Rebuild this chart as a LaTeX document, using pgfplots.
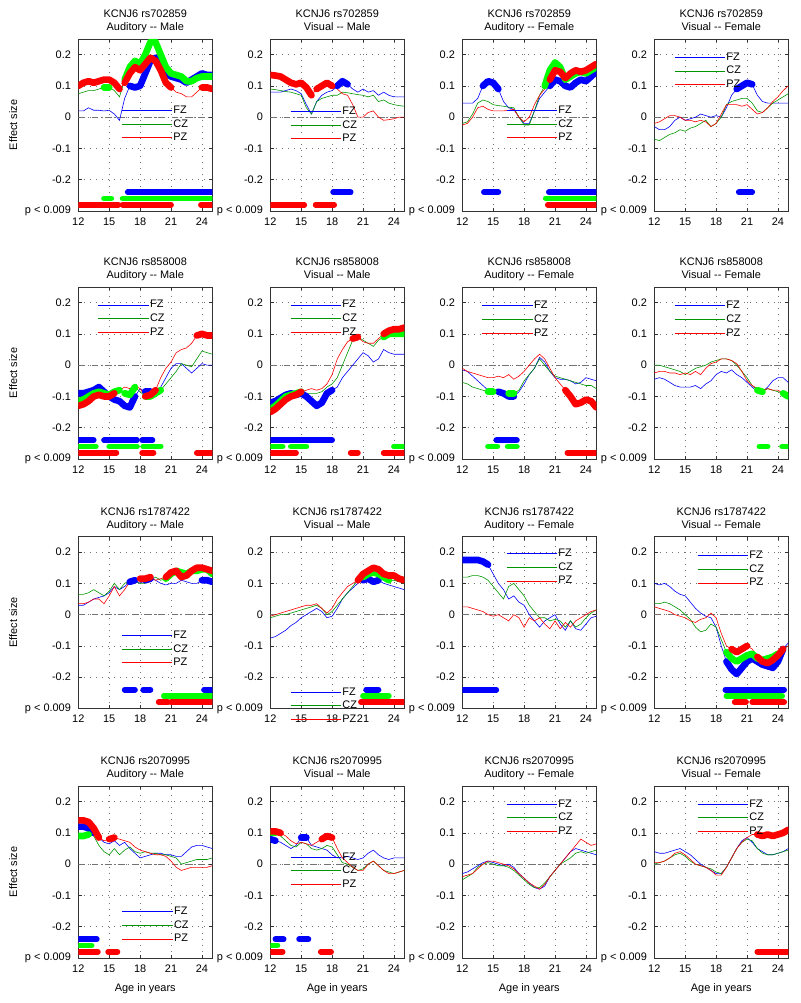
\documentclass[border=0pt]{standalone}
\usepackage{fontspec}
\setmainfont{Liberation Sans}
\usepackage{pgfplots}
\pgfplotsset{compat=1.18}
\usepackage{pgfplotstable}

\newcommand{\fs}{\fontsize{8.2}{9.6}\selectfont}
\definecolor{czl}{RGB}{0,150,0}
\definecolor{sgreen}{RGB}{0,255,0}

% legend sample: a plain long line in the colour of the series
\pgfplotsset{legend image code/.code={\draw[#1] (0pt,0pt) -- (38pt,0pt);}}

\pgfplotsset{
  panel/.style={
    scale only axis, width=100.5pt, height=129pt, anchor=south west,
    xmin=12, xmax=25, ymin=-0.3, ymax=0.25,
    xtick={12,15,18,21,24}, xticklabels={12,15,18,21,24},
    ytick={-0.3,-0.2,-0.1,0,0.1,0.2},
    yticklabels={p < 0.009,-0.2,-0.1,0,0.1,0.2},
    tick align=inside, major tick length=2.5pt,
    axis line style={black!80, line width=0.6pt},
    tick style={black!80, line width=0.5pt},
    grid=major, grid style={black!55, line width=0.5pt, dash pattern=on 0.5pt off 4pt},
    every tick label/.append style={font=\fs, text=black},
    xticklabel style={yshift=-1.5pt}, yticklabel style={xshift=-2pt},
    every axis title/.style={font=\fs, align=center, inner sep=0pt, at={(0.5,1)}, anchor=north, yshift=21.8pt},
    every axis y label/.style={at={(axis description cs:-0.485,0.5)}, rotate=90, anchor=center, font=\fs},
    every axis x label/.style={at={(axis description cs:0.5,-0.176)}, anchor=center, font=\fs},
    legend entries={FZ,CZ,PZ},
    legend style={draw=none, fill=none, font=\fs, anchor=north west, inner sep=0pt,
      row sep=1.6pt, nodes={inner sep=0.5pt, text height=6pt, text depth=1.6pt}},
    legend cell align=left,
  },
  zline/.style={black!55, line width=0.5pt, dash pattern=on 5pt off 2pt on 1pt off 2pt},
  fline/.style={blue, line width=0.45pt},
  cline/.style={czl, line width=0.45pt},
  pline/.style={red, line width=0.45pt},
  fsig/.style={blue, line width=5pt, line cap=round, line join=round},
  csig/.style={sgreen, line width=5pt, line cap=round, line join=round},
  psig/.style={red, line width=5pt, line cap=round, line join=round},
  fbar/.style={blue, line width=4.3pt, line cap=round},
  cbar/.style={sgreen, line width=4.3pt, line cap=round},
  pbar/.style={red, line width=4.3pt, line cap=round},
}

\newcommand{\curves}[1]{%
  \addlegendimage{draw=blue, line width=0.6pt}
  \addlegendimage{draw=czl, line width=0.6pt}
  \addlegendimage{draw=red, line width=0.6pt}
  \addplot[zline, forget plot] coordinates {(12,0) (25,0)};
  \addplot[fline, forget plot] table[y=f] {#1};
  \addplot[cline, forget plot] table[y=c] {#1};
  \addplot[pline, forget plot] table[y=p] {#1};
}
\newcommand{\sig}[4]{\addplot[#1sig, forget plot, restrict x to domain=#2:#3] table[y=#1] {#4};}
\newcommand{\fbar}[2]{\addplot[fbar, forget plot] coordinates {(#1,-0.24) (#2,-0.24)};}
\newcommand{\cbar}[2]{\addplot[cbar, forget plot] coordinates {(#1,-0.26) (#2,-0.26)};}
\newcommand{\pbar}[2]{\addplot[pbar, forget plot] coordinates {(#1,-0.28) (#2,-0.28)};}

% rs702859, auditory male
\pgfplotstableread{
x f c p
12 0.02 0.075 0.1
12.5 0.02 0.08 0.11
13 0.03 0.085 0.115
13.5 0.022 0.085 0.11
14 0.022 0.09 0.115
14.5 0.02 0.095 0.12
15 0.022 0.095 0.12
15.5 0.01 0.085 0.11
16 -0.01 0.065 0.09
16.5 0.06 0.12 0.11
17 0.1 0.16 0.14
17.5 0.095 0.18 0.16
18 0.1 0.17 0.15
18.5 0.14 0.2 0.17
19 0.18 0.24 0.19
19.5 0.19 0.24 0.18
20 0.17 0.2 0.15
20.5 0.14 0.16 0.11
21 0.13 0.14 0.095
21.5 0.125 0.135 0.08
22 0.12 0.13 0.075
22.5 0.11 0.115 0.065
23 0.12 0.115 0.065
23.5 0.13 0.125 0.08
24 0.14 0.13 0.095
24.5 0.135 0.13 0.095
25 0.135 0.13 0.09
}\tA
% rs702859, visual male
\pgfplotstableread{
x f c p
12 0.08 0.09 0.135
12.5 0.08 0.088 0.133
13 0.08 0.085 0.13
13.5 0.085 0.082 0.12
14 0.09 0.08 0.11
14.5 0.085 0.075 0.105
15 0.075 0.07 0.11
15.5 0.04 0.03 0.095
16 0.01 0.01 0.07
16.5 0.05 0.05 0.09
17 0.07 0.06 0.1
17.5 0.08 0.065 0.11
18 0.085 0.07 0.1
18.5 0.1 0.07 0.09
19 0.115 0.08 0.075
19.5 0.105 0.078 0.07
20 0.09 0.075 0.04
20.5 0.08 0.072 0.0
21 0.09 0.07 0.0
21.5 0.08 0.065 0.015
22 0.085 0.07 0.02
22.5 0.07 0.05 0.0
23 0.08 0.055 -0.01
23.5 0.07 0.045 -0.008
24 0.065 0.04 -0.005
24.5 0.065 0.037 0.0
25 0.065 0.035 0.0
}\tB
% rs702859, auditory female
\pgfplotstableread{
x f c p
12 0.045 -0.02 -0.025
12.5 0.045 -0.015 -0.02
13 0.045 0.01 0.0
13.5 0.06 0.045 0.03
14 0.1 0.055 0.035
14.5 0.115 0.05 0.025
15 0.11 0.04 0.02
15.5 0.09 0.037 0.02
16 0.05 0.035 0.02
16.5 0.03 0.032 0.022
17 0.025 0.03 0.025
17.5 0.0 0.0 0.0
18 -0.02 -0.025 -0.015
18.5 -0.02 -0.025 0.0
19 0.02 0.02 0.04
19.5 0.06 0.07 0.07
20 0.08 0.1 0.09
20.5 0.1 0.15 0.12
21 0.12 0.175 0.15
21.5 0.115 0.16 0.145
22 0.1 0.12 0.125
22.5 0.095 0.13 0.14
23 0.11 0.14 0.15
23.5 0.12 0.145 0.145
24 0.115 0.14 0.15
24.5 0.13 0.15 0.16
25 0.145 0.16 0.17
}\tC
% rs702859, visual female
\pgfplotstableread{
x f c p
12 -0.03 -0.07 -0.02
12.5 -0.04 -0.075 -0.015
13 -0.04 -0.065 -0.005
13.5 -0.03 -0.055 0.005
14 -0.01 -0.05 0.005
14.5 0.0 -0.04 0.0
15 -0.01 -0.045 -0.01
15.5 -0.005 -0.035 -0.01
16 0.0 -0.03 -0.015
16.5 0.01 -0.02 -0.01
17 0.005 -0.01 -0.015
17.5 0.0 -0.03 -0.03
18 0.005 -0.02 -0.02
18.5 0.0 0.0 0.01
19 0.03 0.04 0.04
19.5 0.07 0.05 0.04
20 0.09 0.055 0.04
20.5 0.1 0.06 0.035
21 0.11 0.06 0.04
21.5 0.105 0.045 0.025
22 0.07 0.02 0.01
22.5 0.05 0.015 0.015
23 0.045 0.03 0.03
23.5 0.045 0.045 0.05
24 0.045 0.055 0.065
24.5 0.045 0.065 0.085
25 0.045 0.075 0.1
}\tD
% rs858008, auditory male
\pgfplotstableread{
x f c p
12 -0.09 -0.115 -0.13
12.5 -0.09 -0.11 -0.125
13 -0.085 -0.1 -0.115
13.5 -0.08 -0.09 -0.1
14 -0.07 -0.085 -0.095
14.5 -0.085 -0.09 -0.1
15 -0.1 -0.095 -0.1
15.5 -0.11 -0.085 -0.09
16 -0.115 -0.08 -0.08
16.5 -0.13 -0.09 -0.07
17 -0.135 -0.095 -0.075
17.5 -0.1 -0.07 -0.065
18 -0.075 -0.085 -0.075
18.5 -0.085 -0.1 -0.1
19 -0.085 -0.1 -0.095
19.5 -0.08 -0.09 -0.08
20 -0.07 -0.08 -0.04
20.5 -0.04 -0.06 -0.01
21 -0.01 -0.04 0.01
21.5 0.005 -0.02 0.04
22 0.005 0.005 0.05
22.5 -0.01 0.0 0.055
23 -0.025 -0.005 0.07
23.5 -0.01 0.02 0.095
24 0.005 0.045 0.1
24.5 0.0 0.04 0.095
25 0.0 0.035 0.095
}\tE
% rs858008, visual male
\pgfplotstableread{
x f c p
12 -0.12 -0.14 -0.15
12.5 -0.115 -0.13 -0.14
13 -0.105 -0.115 -0.125
13.5 -0.095 -0.1 -0.11
14 -0.09 -0.095 -0.1
14.5 -0.095 -0.09 -0.095
15 -0.09 -0.085 -0.085
15.5 -0.1 -0.09 -0.08
16 -0.115 -0.09 -0.075
16.5 -0.13 -0.09 -0.08
17 -0.12 -0.085 -0.075
17.5 -0.09 -0.07 -0.06
18 -0.08 -0.06 -0.03
18.5 -0.07 -0.04 0.02
19 -0.04 0.0 0.05
19.5 -0.02 0.04 0.075
20 0.0 0.08 0.085
20.5 0.02 0.09 0.09
21 0.04 0.08 0.075
21.5 0.03 0.07 0.07
22 0.01 0.06 0.07
22.5 0.02 0.08 0.085
23 0.05 0.09 0.1
23.5 0.04 0.1 0.11
24 0.035 0.1 0.115
24.5 0.035 0.1 0.115
25 0.035 0.1 0.12
}\tF
% rs858008, auditory female
\pgfplotstableread{
x f c p
12 -0.015 -0.055 -0.01
12.5 -0.02 -0.06 -0.02
13 -0.035 -0.07 -0.025
13.5 -0.05 -0.075 -0.03
14 -0.065 -0.08 -0.035
14.5 -0.08 -0.085 -0.04
15 -0.085 -0.085 -0.04
15.5 -0.085 -0.085 -0.035
16 -0.09 -0.09 -0.04
16.5 -0.1 -0.09 -0.03
17 -0.1 -0.09 -0.045
17.5 -0.085 -0.08 -0.035
18 -0.06 -0.05 -0.02
18.5 -0.03 -0.03 0.0
19 -0.01 -0.01 0.02
19.5 0.025 0.02 0.035
20 0.01 0.0 0.02
20.5 -0.02 -0.02 -0.01
21 -0.04 -0.035 -0.04
21.5 -0.045 -0.04 -0.06
22 -0.045 -0.045 -0.08
22.5 -0.05 -0.05 -0.1
23 -0.06 -0.055 -0.125
23.5 -0.055 -0.06 -0.12
24 -0.04 -0.065 -0.11
24.5 -0.045 -0.065 -0.115
25 -0.05 -0.075 -0.135
}\tG
% rs858008, visual female
\pgfplotstableread{
x f c p
12 -0.045 0.0 -0.025
12.5 -0.04 0.0 -0.02
13 -0.045 -0.005 -0.02
13.5 -0.055 -0.01 -0.025
14 -0.065 -0.015 -0.025
14.5 -0.07 -0.02 -0.03
15 -0.07 -0.03 -0.025
15.5 -0.07 -0.02 -0.03
16 -0.065 -0.01 -0.02
16.5 -0.075 -0.005 -0.03
17 -0.06 0.0 -0.01
17.5 -0.05 0.01 0.005
18 -0.03 0.015 0.01
18.5 -0.02 0.02 0.02
19 -0.025 0.02 0.02
19.5 -0.015 0.015 0.015
20 -0.03 0.0 0.005
20.5 -0.04 -0.02 -0.02
21 -0.055 -0.04 -0.05
21.5 -0.07 -0.065 -0.065
22 -0.085 -0.08 -0.075
22.5 -0.085 -0.085 -0.08
23 -0.07 -0.075 -0.075
23.5 -0.05 -0.08 -0.08
24 -0.04 -0.085 -0.08
24.5 -0.04 -0.09 -0.09
25 -0.055 -0.1 -0.095
}\tH
% rs1787422, auditory male
\pgfplotstableread{
x f c p
12 0.03 0.065 0.035
12.5 0.03 0.065 0.035
13 0.04 0.07 0.04
13.5 0.05 0.08 0.05
14 0.055 0.07 0.05
14.5 0.06 0.06 0.035
15 0.07 0.075 0.06
15.5 0.09 0.1 0.09
16 0.08 0.08 0.06
16.5 0.09 0.1 0.08
17 0.105 0.11 0.105
17.5 0.11 0.105 0.1
18 0.1 0.1 0.115
18.5 0.11 0.1 0.115
19 0.115 0.11 0.12
19.5 0.11 0.12 0.11
20 0.1 0.11 0.115
20.5 0.095 0.115 0.12
21 0.1 0.13 0.135
21.5 0.1 0.14 0.14
22 0.11 0.135 0.12
22.5 0.105 0.13 0.125
23 0.1 0.14 0.14
23.5 0.1 0.14 0.15
24 0.11 0.145 0.15
24.5 0.11 0.145 0.145
25 0.105 0.13 0.14
}\tI
% rs1787422, visual male
\pgfplotstableread{
x f c p
12 -0.075 -0.01 -0.005
12.5 -0.07 -0.005 0.0
13 -0.06 0.0 0.005
13.5 -0.05 0.0 0.01
14 -0.035 0.005 0.015
14.5 -0.025 0.01 0.02
15 -0.01 0.015 0.025
15.5 0.0 0.02 0.03
16 0.01 0.025 0.03
16.5 0.02 0.03 0.035
17 0.01 0.02 0.02
17.5 -0.01 0.0 0.005
18 -0.005 0.01 0.02
18.5 0.02 0.03 0.05
19 0.05 0.05 0.07
19.5 0.07 0.07 0.09
20 0.085 0.09 0.1
20.5 0.1 0.11 0.11
21 0.11 0.12 0.13
21.5 0.115 0.13 0.14
22 0.105 0.135 0.15
22.5 0.11 0.13 0.145
23 0.1 0.12 0.13
23.5 0.095 0.11 0.125
24 0.09 0.11 0.125
24.5 0.085 0.105 0.115
25 0.08 0.1 0.11
}\tJ
% rs1787422, auditory female
\pgfplotstableread{
x f c p
12 0.175 0.12 0.025
12.5 0.175 0.12 0.025
13 0.175 0.125 0.02
13.5 0.175 0.125 0.015
14 0.17 0.12 0.01
14.5 0.16 0.11 0.0
15 0.13 0.09 -0.005
15.5 0.1 0.07 0.0
16 0.08 0.05 -0.01
16.5 0.05 0.09 -0.02
17 0.06 0.1 0.0
17.5 0.04 0.08 -0.01
18 0.03 0.06 -0.04
18.5 0.0 0.03 -0.01
19 -0.02 0.01 -0.02
19.5 -0.04 -0.01 -0.01
20 -0.02 -0.01 -0.03
20.5 -0.01 -0.02 -0.045
21 0.0 -0.015 -0.02
21.5 -0.03 -0.02 -0.045
22 -0.05 -0.04 -0.025
22.5 -0.02 -0.02 -0.04
23 -0.045 -0.04 -0.02
23.5 -0.05 -0.03 -0.01
24 -0.03 -0.01 0.0
24.5 -0.01 0.005 0.01
25 -0.005 0.015 0.015
}\tK
% rs1787422, visual female
\pgfplotstableread{
x f c p
12 0.1 0.035 0.025
12.5 0.095 0.035 0.02
13 0.1 0.04 0.015
13.5 0.09 0.035 0.01
14 0.075 0.025 0.0
14.5 0.065 0.015 -0.005
15 0.06 0.0 -0.01
15.5 0.04 -0.015 -0.02
16 0.02 -0.04 -0.025
16.5 0.005 -0.055 -0.015
17 -0.005 -0.05 -0.01
17.5 -0.01 -0.03 0.005
18 -0.04 -0.04 -0.01
18.5 -0.1 -0.08 -0.06
19 -0.15 -0.12 -0.1
19.5 -0.175 -0.14 -0.11
20 -0.19 -0.15 -0.12
20.5 -0.17 -0.14 -0.11
21 -0.15 -0.13 -0.1
21.5 -0.14 -0.125 -0.11
22 -0.15 -0.14 -0.135
22.5 -0.16 -0.145 -0.15
23 -0.165 -0.14 -0.155
23.5 -0.17 -0.135 -0.145
24 -0.15 -0.125 -0.13
24.5 -0.11 -0.11 -0.11
25 -0.09 -0.1 -0.1
}\tL
% rs2070995, auditory male
\pgfplotstableread{
x f c p
12 0.12 0.09 0.14
12.5 0.12 0.09 0.14
13 0.115 0.095 0.135
13.5 0.1 0.09 0.115
14 0.085 0.06 0.085
14.5 0.07 0.04 0.075
15 0.065 0.03 0.08
15.5 0.075 0.05 0.085
16 0.06 0.03 0.08
16.5 0.07 0.045 0.075
17 0.05 0.055 0.07
17.5 0.035 0.04 0.055
18 0.02 0.035 0.045
18.5 0.025 0.04 0.04
19 0.03 0.035 0.035
19.5 0.035 0.035 0.03
20 0.035 0.03 0.03
20.5 0.03 0.03 0.025
21 0.03 0.025 0.01
21.5 0.025 0.02 -0.01
22 0.025 0.0 -0.02
22.5 0.04 0.005 -0.015
23 0.055 0.01 -0.01
23.5 0.06 0.015 -0.01
24 0.06 0.015 -0.01
24.5 0.055 0.015 -0.01
25 0.05 0.02 -0.005
}\tM
% rs2070995, visual male
\pgfplotstableread{
x f c p
12 0.08 0.1 0.105
12.5 0.075 0.1 0.105
13 0.07 0.09 0.1
13.5 0.06 0.075 0.09
14 0.05 0.06 0.075
14.5 0.06 0.055 0.065
15 0.085 0.07 0.07
15.5 0.085 0.065 0.065
16 0.06 0.05 0.06
16.5 0.055 0.045 0.07
17 0.05 0.05 0.08
17.5 0.045 0.06 0.09
18 0.03 0.055 0.085
18.5 0.02 0.03 0.05
19 0.02 0.005 0.02
19.5 0.025 0.0 0.005
20 0.02 -0.01 -0.01
20.5 0.015 -0.02 -0.02
21 0.02 -0.015 -0.02
21.5 0.035 0.0 0.0
22 0.045 0.01 0.01
22.5 0.03 -0.005 -0.005
23 0.02 -0.02 -0.02
23.5 0.015 -0.025 -0.03
24 0.02 -0.03 -0.03
24.5 0.02 -0.025 -0.025
25 0.02 -0.02 -0.02
}\tN
% rs2070995, auditory female
\pgfplotstableread{
x f c p
12 -0.03 -0.05 -0.04
12.5 -0.025 -0.04 -0.035
13 -0.015 -0.03 -0.03
13.5 -0.005 -0.01 -0.015
14 0.005 0.0 0.0
14.5 0.01 0.005 0.01
15 0.005 0.0 0.01
15.5 0.0 -0.005 0.005
16 -0.005 -0.005 0.0
16.5 0.0 -0.01 -0.005
17 -0.01 -0.02 -0.015
17.5 -0.03 -0.035 -0.03
18 -0.045 -0.05 -0.045
18.5 -0.06 -0.065 -0.06
19 -0.075 -0.075 -0.07
19.5 -0.08 -0.075 -0.08
20 -0.07 -0.06 -0.065
20.5 -0.04 -0.04 -0.04
21 -0.02 -0.02 -0.02
21.5 0.0 0.0 0.0
22 0.02 0.01 0.02
22.5 0.04 0.02 0.04
23 0.05 0.035 0.06
23.5 0.045 0.04 0.08
24 0.04 0.035 0.07
24.5 0.035 0.04 0.06
25 0.03 0.045 0.065
}\tO
% rs2070995, visual female
\pgfplotstableread{
x f c p
12 0.04 0.0 0.005
12.5 0.035 0.005 0.005
13 0.035 0.01 0.01
13.5 0.04 0.02 0.02
14 0.045 0.03 0.035
14.5 0.05 0.035 0.04
15 0.04 0.025 0.03
15.5 0.03 0.01 0.015
16 0.015 0.0 0.0
16.5 0.0 -0.005 -0.005
17 -0.01 -0.01 -0.01
17.5 -0.02 -0.015 -0.02
18 -0.03 -0.025 -0.035
18.5 -0.03 -0.03 -0.035
19 -0.01 -0.01 -0.01
19.5 0.02 0.02 0.02
20 0.05 0.05 0.05
20.5 0.075 0.07 0.07
21 0.085 0.08 0.085
21.5 0.07 0.075 0.095
22 0.05 0.05 0.095
22.5 0.04 0.035 0.09
23 0.03 0.03 0.095
23.5 0.03 0.03 0.09
24 0.035 0.035 0.095
24.5 0.04 0.04 0.1
25 0.05 0.045 0.11
}\tP

\begin{document}
\begin{tikzpicture}
\path[use as bounding box] (0,0) rectangle (600pt,752.25pt);

% ---------- row 1: rs702859 ----------
\begin{axis}[panel, at={(58.7pt,594pt)}, title={KCNJ6 rs702859\\Auditory -{}- Male},
  ylabel={Effect size}, legend style={at={(0.319,0.619)}}]
\curves{\tA}
\sig{f}{16.8}{25}{\tA}
\sig{c}{14.5}{15.2}{\tA} \sig{c}{16.3}{25}{\tA}
\sig{p}{12}{16}{\tA} \sig{p}{16.3}{21}{\tA} \sig{p}{23.9}{25}{\tA}
\fbar{16.8}{25}
\cbar{14.5}{15.2} \cbar{16.3}{25}
\pbar{12}{15.9} \pbar{16.3}{21} \pbar{23.9}{25}
\end{axis}

\begin{axis}[panel, at={(202.7pt,594pt)}, title={KCNJ6 rs702859\\Visual -{}- Male},
  legend style={at={(0.147,0.613)}}]
\curves{\tB}
\sig{f}{18.3}{19.8}{\tB}
\sig{p}{12}{16}{\tB} \sig{p}{16.5}{18}{\tB}
\fbar{18.1}{19.8}
\pbar{12}{15.3} \pbar{16.4}{18.2}
\end{axis}

\begin{axis}[panel, at={(346.7pt,594pt)}, title={KCNJ6 rs702859\\Auditory -{}- Female},
  legend style={at={(0.326,0.619)}}]
\curves{\tC}
\sig{f}{14}{15.5}{\tC} \sig{f}{20.3}{25}{\tC}
\sig{c}{20}{25}{\tC}
\sig{p}{20.5}{25}{\tC}
\fbar{14.1}{15.5} \fbar{20.4}{25}
\cbar{20.1}{25}
\pbar{20.3}{25}
\end{axis}

\begin{axis}[panel, at={(490.7pt,594pt)}, title={KCNJ6 rs702859\\Visual -{}- Female},
  legend style={at={(0.147,0.928)}}]
\curves{\tD}
\sig{f}{20}{21.5}{\tD}
\fbar{20.2}{21.5}
\end{axis}

% ---------- row 2: rs858008 ----------
\begin{axis}[panel, at={(58.7pt,408pt)}, title={KCNJ6 rs858008\\Auditory -{}- Male},
  ylabel={Effect size}, legend style={at={(0.145,0.930)}}]
\curves{\tE}
\sig{f}{12}{17.5}{\tE} \sig{f}{18.5}{19}{\tE}
\sig{c}{12}{16}{\tE} \sig{c}{16.5}{17.5}{\tE} \sig{c}{18.5}{20}{\tE}
\sig{p}{12}{15.5}{\tE} \sig{p}{18.5}{19.5}{\tE} \sig{p}{23.5}{25}{\tE}
\fbar{12}{13.5} \fbar{14.5}{17.7} \fbar{18.2}{19.2}
\cbar{12}{13.7} \cbar{15}{16.3} \cbar{16.5}{17.7} \cbar{18.3}{20}
\pbar{12}{15.7} \pbar{18.2}{19.3} \pbar{23.5}{25}
\end{axis}

\begin{axis}[panel, at={(202.7pt,408pt)}, title={KCNJ6 rs858008\\Visual -{}- Male},
  legend style={at={(0.147,0.930)}}]
\curves{\tF}
\sig{f}{12}{18}{\tF}
\sig{c}{12}{15}{\tF} \sig{c}{23}{25}{\tF}
\sig{p}{12}{15}{\tF} \sig{p}{20}{20.5}{\tF} \sig{p}{23}{25}{\tF}
\fbar{12}{18}
\cbar{12}{13.2} \cbar{14}{15.5} \cbar{24}{25}
\pbar{12}{14.5} \pbar{19.8}{20.5} \pbar{23}{25}
\end{axis}

\begin{axis}[panel, at={(346.7pt,408pt)}, title={KCNJ6 rs858008\\Auditory -{}- Female},
  legend style={at={(0.145,0.925)}}]
\curves{\tG}
\sig{f}{15.5}{17.3}{\tG}
\sig{c}{14.5}{15.3}{\tG} \sig{c}{16.5}{17.2}{\tG}
\sig{p}{22}{25}{\tG}
\fbar{15.3}{17.3}
\cbar{14.5}{15.4} \cbar{16.4}{17.3}
\pbar{22.2}{25}
\end{axis}

\begin{axis}[panel, at={(490.7pt,408pt)}, title={KCNJ6 rs858008\\Visual -{}- Female},
  legend style={at={(0.147,0.925)}}]
\curves{\tH}
\sig{c}{22}{22.8}{\tH} \sig{c}{24.5}{25}{\tH}
\cbar{22.2}{23} \cbar{24.4}{25}
\end{axis}

% ---------- row 3: rs1787422 ----------
\begin{axis}[panel, at={(58.7pt,220.9pt)}, title={KCNJ6 rs1787422\\Auditory -{}- Male},
  ylabel={Effect size}, legend style={at={(0.319,0.459)}}]
\curves{\tI}
\sig{f}{16.8}{17.5}{\tI} \sig{f}{18.5}{19}{\tI} \sig{f}{24}{25}{\tI}
\sig{c}{20.5}{25}{\tI}
\sig{p}{18}{19}{\tI} \sig{p}{20.5}{25}{\tI}
\fbar{16.5}{17.5} \fbar{18.3}{19} \fbar{24.2}{25}
\cbar{20.3}{25}
\pbar{19.8}{20.7} \pbar{21}{25}
\end{axis}

\begin{axis}[panel, at={(202.7pt,220.9pt)}, title={KCNJ6 rs1787422\\Visual -{}- Male},
  legend style={at={(0.147,0.129)}}]
\curves{\tJ}
\sig{f}{21}{22.5}{\tJ}
\sig{c}{21}{23.5}{\tJ}
\sig{p}{20.5}{25}{\tJ}
\fbar{21.3}{22.5}
\cbar{21}{23.5}
\pbar{20.8}{25}
\end{axis}

\begin{axis}[panel, at={(346.7pt,220.9pt)}, title={KCNJ6 rs1787422\\Auditory -{}- Female},
  legend style={at={(0.326,0.934)}}]
\curves{\tK}
\sig{f}{12}{14.5}{\tK}
\fbar{12}{15.3}
\end{axis}

\begin{axis}[panel, at={(490.7pt,220.9pt)}, title={KCNJ6 rs1787422\\Visual -{}- Female},
  legend style={at={(0.319,0.923)}}]
\curves{\tL}
\sig{f}{18.7}{24.5}{\tL}
\sig{c}{18.7}{24.3}{\tL}
\sig{p}{19.5}{21}{\tL} \sig{p}{22}{24.5}{\tL}
\fbar{18.9}{24.6}
\cbar{19}{24.4}
\pbar{19.8}{20.9} \pbar{21.5}{24.6}
\end{axis}

% ---------- row 4: rs2070995 ----------
\begin{axis}[panel, at={(58.7pt,33.75pt)}, title={KCNJ6 rs2070995\\Auditory -{}- Male},
  ylabel={Effect size}, xlabel={Age in years}, legend style={at={(0.324,0.304)}}]
\curves{\tM}
\sig{f}{12}{13.5}{\tM}
\sig{c}{12}{13.3}{\tM}
\sig{p}{12}{14}{\tM} \sig{p}{15}{15.5}{\tM}
\fbar{12}{13.8}
\cbar{12}{13.3}
\pbar{12}{13.9} \pbar{14.9}{15.8}
\end{axis}

\begin{axis}[panel, at={(202.7pt,33.75pt)}, title={KCNJ6 rs2070995\\Visual -{}- Male},
  xlabel={Age in years}, legend style={at={(0.147,0.621)}}]
\curves{\tN}
\sig{f}{12}{12.5}{\tN} \sig{f}{15}{15.5}{\tN}
\sig{c}{12}{12.5}{\tN}
\sig{p}{12}{13}{\tN} \sig{p}{17}{18}{\tN}
\fbar{12.5}{13.3} \fbar{14.8}{15.7}
\cbar{12}{12.7}
\pbar{12}{13.2} \pbar{16.9}{17.9}
\end{axis}

\begin{axis}[panel, at={(346.7pt,33.75pt)}, title={KCNJ6 rs2070995\\Auditory -{}- Female},
  xlabel={Age in years}, legend style={at={(0.326,0.929)}}]
\curves{\tO}
\end{axis}

\begin{axis}[panel, at={(490.7pt,33.75pt)}, title={KCNJ6 rs2070995\\Visual -{}- Female},
  xlabel={Age in years}, legend style={at={(0.319,0.929)}}]
\curves{\tP}
\sig{p}{21.8}{25}{\tP}
\pbar{22}{25}
\end{axis}
\end{tikzpicture}
\end{document}
